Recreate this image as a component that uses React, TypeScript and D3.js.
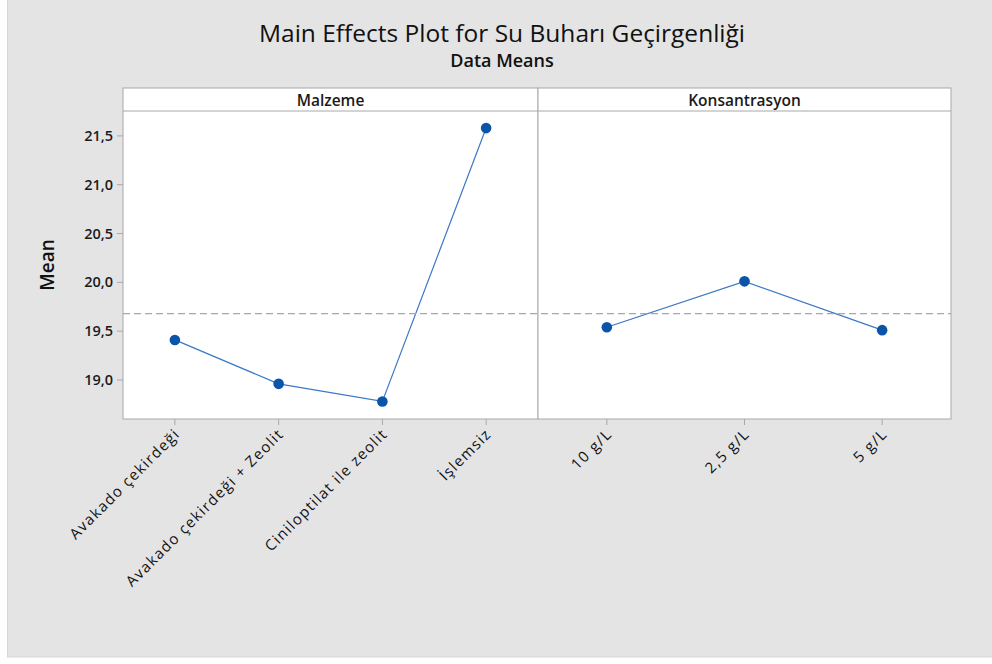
import React from "react";
import { scaleLinear, scalePoint, line } from "d3";

// data
const malzeme = ["Avakado çekirdeği", "Avakado çekirdeği + Zeolit", "Ciniloptilat ile zeolit", "İşlemsiz"];
const malzemeMeans = [19.41, 18.96, 18.78, 21.58];
const konsantrasyon = ["10 g/L", "2,5 g/L", "5 g/L"];
const konsMeans = [19.54, 20.01, 19.51];
const yTicks = [19.0, 19.5, 20.0, 20.5, 21.0, 21.5];
const grandMean = 19.68;

const FONT = "'Open Sans', 'Noto Sans', sans-serif";

const top = 111;
const bottom = 419;
const stripTop = 88;
const y = scaleLinear().domain([18.6, 21.755]).range([bottom, top]);

const panels = [
  { title: "Malzeme", x0: 123, x1: 538, cats: malzeme, vals: malzemeMeans },
  { title: "Konsantrasyon", x0: 538, x1: 951, cats: konsantrasyon, vals: konsMeans },
];

function Panel({ p }: { p: typeof panels[0] }) {
  const x = scalePoint<string>().domain(p.cats).range([p.x0, p.x1]).padding(0.5);
  const pts = p.cats.map((c, i) => [x(c) as number, y(p.vals[i])] as [number, number]);
  const path = line()(pts) || "";
  return (
    <g>
      <rect x={p.x0} y={stripTop} width={p.x1 - p.x0} height={bottom - stripTop} fill="#fff" stroke="#a8a8a8" />
      <line x1={p.x0} x2={p.x1} y1={top} y2={top} stroke="#a8a8a8" />
      <text x={(p.x0 + p.x1) / 2} y={stripTop + 18} textAnchor="middle" fontSize={15.5} fontWeight={600} fill="#1a1a1a">{p.title}</text>
      {p.cats.map((c) => (
        <g key={c} transform={`translate(${x(c)},${bottom})`}>
          <line y2={6} stroke="#a8a8a8" />
          <text transform="translate(6,16) rotate(-45)" textAnchor="end" fontSize={15} letterSpacing={1.3} fill="#111">{c}</text>
        </g>
      ))}
      <path d={path} fill="none" stroke="#3a78c8" strokeWidth={1.2} />
      {pts.map((d, i) => (
        <circle key={i} cx={d[0]} cy={d[1]} r={5.3} fill="#0a55a8" />
      ))}
    </g>
  );
}

export default function App() {
  return (
    <svg width={992} height={664} style={{ position: "absolute", left: 0, top: 0, fontFamily: FONT }}>
      <rect x={0} y={0} width={992} height={664} fill="#fff" />
      <rect x={7.5} y={-1} width={990} height={658} fill="#e4e4e4" stroke="#d6d6d6" />
      <text x={502} y={42} textAnchor="middle" fontSize={24.5} fontWeight={500} fill="#111">Main Effects Plot for Su Buharı Geçirgenliği</text>
      <text x={502} y={67} textAnchor="middle" fontSize={18} fontWeight={600} fill="#111">Data Means</text>
      {panels.map((p) => (
        <Panel key={p.title} p={p} />
      ))}
      {yTicks.map((t) => (
        <g key={t} transform={`translate(123,${y(t)})`}>
          <line x2={-6} stroke="#a8a8a8" />
          <text x={-10} dy="0.35em" textAnchor="end" fontSize={14.5} fontWeight={600} fill="#1a1a1a">{t.toFixed(1).replace(".", ",")}</text>
        </g>
      ))}
      <text transform={`translate(54,${(top + bottom) / 2}) rotate(-90)`} textAnchor="middle" fontSize={19} fontWeight={600} fill="#111">Mean</text>
      <line x1={123} x2={951} y1={y(grandMean)} y2={y(grandMean)} stroke="#a8a8a8" strokeDasharray="7,4" strokeWidth={1.3} />
    </svg>
  );
}
